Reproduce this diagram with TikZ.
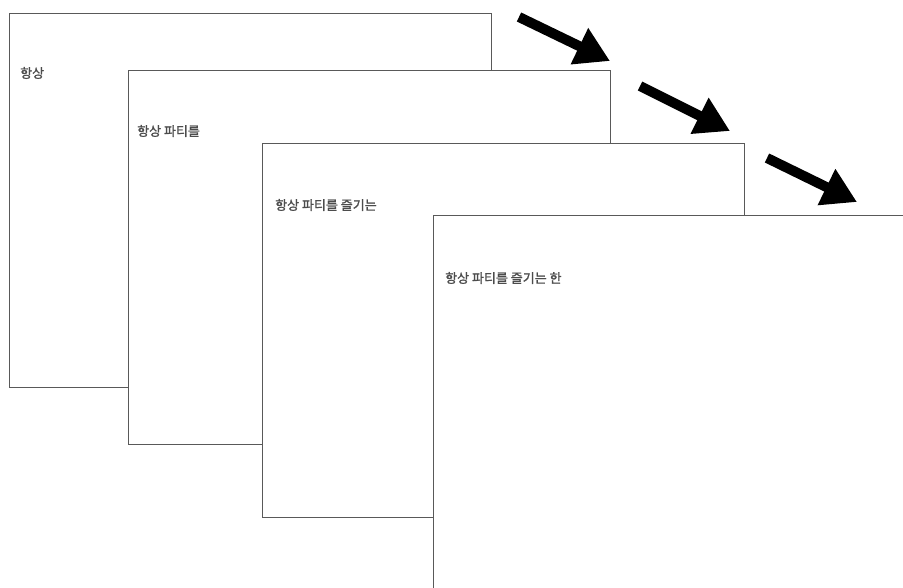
\documentclass[tikz,border=0pt]{standalone}
\usepackage{fontspec}
\newfontfamily\krfont{Noto Sans CJK KR}[FakeBold=1.5]
\usetikzlibrary{arrows.meta}
\begin{document}
\begin{tikzpicture}[x=1pt,y=-1pt,
  page/.style={draw=black!65,line width=1pt,fill=white,anchor=north west,
    minimum width=482pt,minimum height=373pt,inner sep=0pt,outer sep=0pt},
  label/.style={anchor=west,inner sep=0pt,font=\krfont\fontsize{13}{15}\selectfont,text=black!70},
  bigarrow/.style={line width=10pt,-{Triangle[length=34pt,width=38pt]}}]
\useasboundingbox (0,0) rectangle (903,588);
\clip (0,0) rectangle (903,588);
\fill[white] (0,0) rectangle (903,588);
\node[page] (p1) at (9,14) {};
\node[label] (t1) at (20,73) {항상};
\node[page] (p2) at (128,71) {};
\node[label] (t2) at (137,131) {항상 파티를};
\node[page] (p3) at (262,144) {};
\node[label] (t3) at (275,205) {항상 파티를 즐기는};
\node[page] (p4) at (433,216) {};
\node[label] (t4) at (445,278) {항상 파티를 즐기는 한};
\coordinate (a1s) at (519,17);
\coordinate (a1e) at (610,61);
\coordinate (a2s) at (640,86);
\coordinate (a2e) at (730,131);
\coordinate (a3s) at (767,158);
\coordinate (a3e) at (857,202);
\draw[bigarrow] (a1s) -- (a1e);
\draw[bigarrow] (a2s) -- (a2e);
\draw[bigarrow] (a3s) -- (a3e);
\end{tikzpicture}
\end{document}
